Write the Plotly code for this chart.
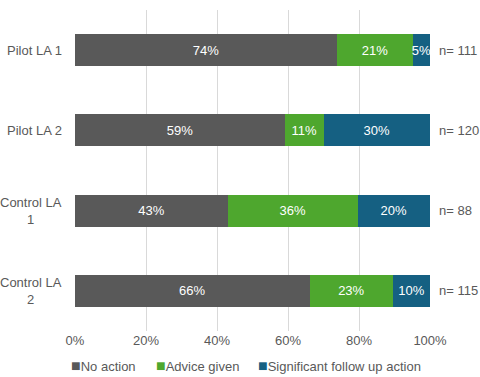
import plotly.graph_objects as go

categories = ["Pilot LA 1", "Pilot LA 2", "Control LA 1", "Control LA 2"]
cat_labels = ["Pilot LA 1", "Pilot LA 2", "Control LA<br>1", "Control LA<br>2"]
no_action = [73.8, 59.1, 43.1, 66.1]
advice_given = [21.4, 10.9, 36.5, 23.5]
significant = [4.8, 30.0, 20.4, 10.4]
no_action_lbl = ["74%", "59%", "43%", "66%"]
advice_lbl = ["21%", "11%", "36%", "23%"]
significant_lbl = ["5%", "30%", "20%", "10%"]
n_labels = ["n= 111", "n= 120", "n= 88", "n= 115"]
series_names = ["No action", "Advice given", "Significant follow up action"]
colors = ["#595959", "#4EA72E", "#156082"]

FONT = "Liberation Sans, Arial, sans-serif"
TXT = "#595959"

# plot area spans pixels x 75..430, y 10..331
PL, PR, PT, PB = 75, 430, 10, 331
PW, PH = PR - PL, PB - PT


def px_x(px):
    return (px - PL) / PW


def px_y(py):
    return (PB - py) / PH


fig = go.Figure()
for name, vals, lbls, col in zip(series_names, [no_action, advice_given, significant],
                                 [no_action_lbl, advice_lbl, significant_lbl], colors):
    fig.add_trace(go.Bar(
        y=categories, x=vals, orientation="h", name=name,
        marker=dict(color=col, line=dict(width=0)),
        text=lbls, textposition="inside", insidetextanchor="middle",
        textangle=0, constraintext="none",
        textfont=dict(color="white", size=13, family=FONT),
        width=0.4, showlegend=False, hoverinfo="skip",
    ))

ann = []
for c, lab in zip(categories, cat_labels):
    ann.append(dict(x=px_x(64), y=c, xref="paper", yref="y", text=lab, showarrow=False,
                    xanchor="right", align="center",
                    font=dict(size=13, color=TXT, family=FONT)))
for c, n in zip(categories, n_labels):
    ann.append(dict(x=px_x(437), y=c, xref="paper", yref="y", text=n, showarrow=False,
                    xanchor="left", font=dict(size=13, color=TXT, family=FONT)))

legend_px = [69, 154, 256]
for px, name, col in zip(legend_px, series_names, colors):
    ann.append(dict(x=px_x(px), y=px_y(365), xref="paper", yref="paper",
                    text=f"<span style='color:{col};font-size:16px'>■</span>{name}",
                    showarrow=False, xanchor="left", yanchor="middle",
                    font=dict(size=13, color=TXT, family=FONT)))

fig.update_layout(
    barmode="stack",
    width=480, height=377,
    margin=dict(l=PL, r=480 - PR, t=PT, b=377 - PB),
    paper_bgcolor="white", plot_bgcolor="white",
    font=dict(family=FONT, size=13, color=TXT),
    xaxis=dict(range=[0, 100], dtick=20, ticksuffix="%", showgrid=True,
               gridcolor="#d9d9d9", gridwidth=1, zeroline=False,
               showline=False, tickfont=dict(size=13, color=TXT), ticks=""),
    yaxis=dict(categoryorder="array", categoryarray=categories,
               autorange="reversed", showticklabels=False, showgrid=False,
               zeroline=False, showline=False),
    annotations=ann,
)
fig.write_html(
    "out.html",
    config={"displayModeBar": False},
    default_width="480px",
    default_height="377px",
    post_script="document.body.style.margin='0';document.body.style.overflow='hidden';",
)
